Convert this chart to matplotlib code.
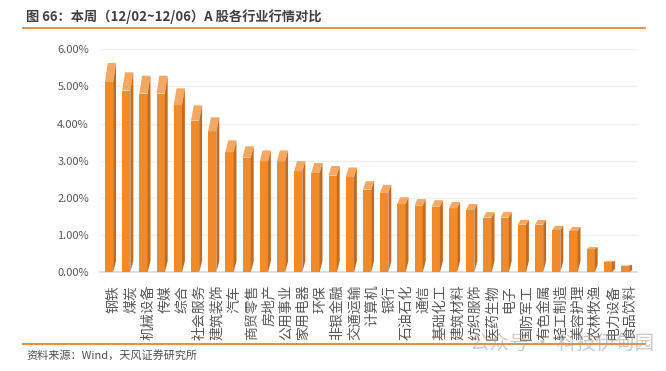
import numpy as np
import matplotlib.pyplot as plt
from matplotlib.patches import Polygon
from matplotlib.lines import Line2D

plt.rcParams['font.family'] = ['Noto Sans CJK SC', 'DejaVu Sans']

industries = ['钢铁', '煤炭', '机械设备', '传媒', '综合', '社会服务', '建筑装饰', '汽车',
              '商贸零售', '房地产', '公用事业', '家用电器', '环保', '非银金融', '交通运输',
              '计算机', '银行', '石油石化', '通信', '基础化工', '建筑材料', '纺织服饰',
              '医药生物', '电子', '国防军工', '有色金属', '轻工制造', '美容护理', '农林牧渔',
              '电力设备', '食品饮料']
returns = [5.63, 5.38, 5.29, 5.29, 4.95, 4.49, 4.17, 3.55, 3.39, 3.28, 3.28, 2.99, 2.94,
           2.86, 2.82, 2.45, 2.35, 2.02, 1.97, 1.94, 1.89, 1.84, 1.62, 1.62, 1.41, 1.41,
           1.25, 1.22, 0.68, 0.31, 0.20]
yticks = [0, 1, 2, 3, 4, 5, 6]

W, H = 666, 371
fig = plt.figure(figsize=(W / 100, H / 100), dpi=100)
ax = fig.add_axes([100 / W, (H - 272.3) / H, 537 / W, 223 / H])

front_c = '#F08B2C'
top_c = '#F5A862'
side_c = '#C46B1F'
w = 0.48
dx = 0.17

# pseudo-3D bars: front face, top face, side face
for i, v in enumerate(returns):
    ft = v / 1.1
    x0 = i - (w + dx) / 2
    xr = x0 + w
    ax.add_patch(Polygon([(x0, 0), (xr, 0), (xr, ft), (x0, ft)], closed=True,
                         facecolor=front_c, edgecolor='none', zorder=3))
    ax.add_patch(Polygon([(x0, ft), (xr, ft), (xr + dx, v), (x0 + dx, v)], closed=True,
                         facecolor=top_c, edgecolor='none', zorder=3))
    ax.add_patch(Polygon([(xr, 0), (xr + dx, min(0.3, v * 0.3)), (xr + dx, v), (xr, ft)],
                         closed=True, facecolor=side_c, edgecolor='none', zorder=3))

x = np.arange(len(industries))
ax.set_xlim(-0.61, 30.61)
ax.set_ylim(0, 6)
ax.set_yticks(yticks)
ax.set_yticklabels(['{:.2f}%'.format(t) for t in yticks], fontsize=8, color='#595959')
ax.set_xticks(x + 0.2)
ax.set_xticklabels(industries, rotation=90, fontsize=10, color='#595959', va='top', ha='center')
ax.tick_params(axis='both', length=0)
ax.tick_params(axis='y', pad=8)
ax.tick_params(axis='x', pad=9)
ax.grid(axis='y', color='#EFEFEF', linewidth=0.9, zorder=0)
ax.set_axisbelow(True)
for s in ['top', 'right', 'left']:
    ax.spines[s].set_visible(False)
ax.spines['bottom'].set_color('#D9D9D9')
ax.spines['bottom'].set_linewidth(1.2)

fig.text(26 / W, 1 - 16.5 / H, '图 66：本周（12/02~12/06）A 股各行业行情对比',
         fontsize=9.5, fontweight='bold', color='#404040', va='center', ha='left')
fig.add_artist(Line2D([23 / W, 645 / W], [1 - 27.5 / H] * 2, color='#E8791E', lw=1.2))
fig.add_artist(Line2D([23 / W, 645 / W], [1 - 344 / H] * 2, color='#E8791E', lw=1.2))
fig.text(26 / W, 1 - 355 / H, '资料来源：Wind，天风证券研究所',
         fontsize=8, color='#505050', va='center', ha='left')
fig.text(470 / W, 1 - 343 / H, '公众号 · 科技伊甸园', fontsize=14, color='#A0A0A0',
         alpha=0.55, va='center', ha='left')

fig.savefig('out.png', dpi=100)
